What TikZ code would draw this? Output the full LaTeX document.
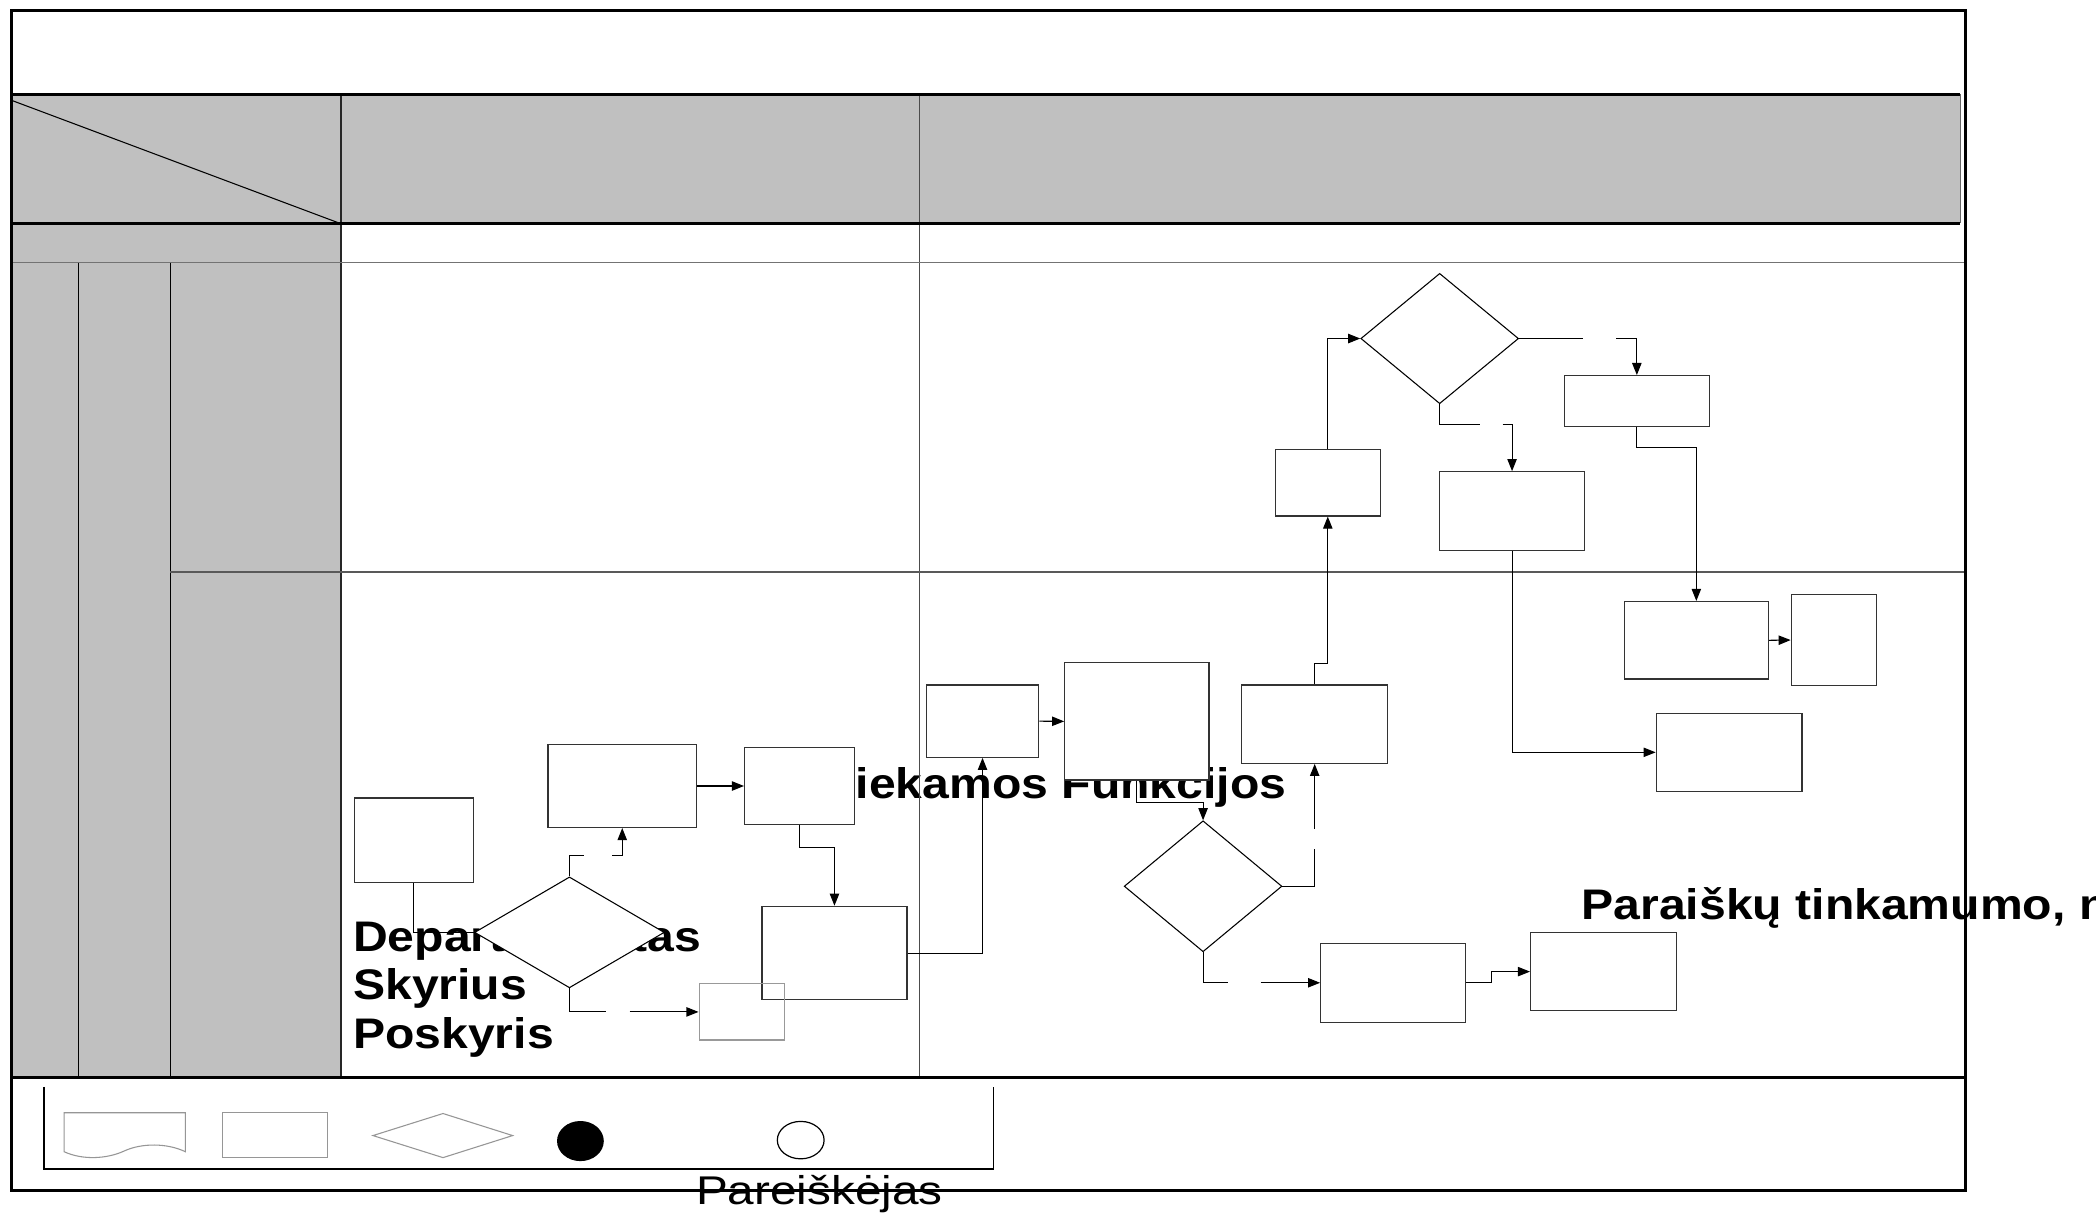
\documentclass[tikz,border=0pt]{standalone}
\usepackage{fontspec}
\setmainfont{Liberation Sans}
\usepackage{graphicx}
\usetikzlibrary{arrows.meta,shapes.geometric}
\definecolor{hdr}{RGB}{192,192,192}
\definecolor{leggray}{RGB}{150,150,150}
\tikzset{
  box/.style={rectangle, draw=black!80, fill=white, line width=0.9pt, inner sep=0pt},
  gbox/.style={rectangle, draw=black!40, line width=0.9pt, inner sep=0pt},
  dec/.style={diamond, draw=black, fill=white, line width=0.8pt, inner sep=0pt},
  conn/.style={draw=black, line width=0.8pt},
  arr/.style={conn, -{Triangle[length=9pt,width=7pt]}},
  bigtxt/.style={font=\fontsize{32}{36}\selectfont\bfseries, inner sep=0pt, anchor=base west},
  regtxt/.style={font=\fontsize{30}{34}\selectfont, inner sep=0pt, anchor=base west},
  leg/.style={draw=leggray, line width=0.8pt},
}
\begin{document}
\begin{tikzpicture}[x=1pt,y=-1pt]
\clip (0,0) rectangle (1568,908);
\fill[white] (0,0) rectangle (1568,908);
% gray header and left columns
\fill[hdr] (8.5,70.6) rectangle (1466.4,167);
\fill[hdr] (8.5,167) rectangle (255,806);

% texts (drawn beneath shapes)
\node[bigtxt] (tdep) at (264,712) {\scalebox{1.125}[1]{Departamentas}};
\node[bigtxt] (tsky) at (264,748) {\scalebox{1.125}[1]{Skyrius}};
\node[bigtxt] (tpos) at (264,784) {\scalebox{1.125}[1]{Poskyris}};
\node[bigtxt] (tfun) at (592,597) {\scalebox{1.125}[1]{Atliekamos Funkcijos}};
\node[bigtxt] (tpar) at (1183,688) {\scalebox{1.125}[1]{Paraiškų tinkamumo, n}};
\node[regtxt] (tpare) at (520.5,901) {\scalebox{1.19}[1]{Pareiškėjas}};

% grid
\draw[line width=0.8pt] (8.5,75) -- (253,166.6);
\draw[black!85, line width=1.3pt] (255,70.6) -- (255,806);
\draw[black!70, line width=0.9pt] (688,70.6) -- (688,806);
\draw[black!60, line width=0.9pt] (1466.4,70.6) -- (1466.4,167);
\draw[black!55, line width=1pt] (8.5,196.5) -- (1470.5,196.5);
\draw[black, line width=1.2pt] (58.7,196.5) -- (58.7,806);
\draw[black, line width=1.2pt] (127.4,196.5) -- (127.4,806);
\draw[black!65, line width=1pt] (127.4,428) -- (1470.5,428);
\draw[line width=1.9pt] (8.5,70.6) -- (1466.4,70.6);
\draw[line width=1.9pt] (8.5,167) -- (1466.4,167);
\draw[line width=2pt] (8.5,806) -- (1470.5,806);
\draw[line width=1.8pt] (8.5,8) rectangle (1470.5,890.5);

% legend
\draw[line width=1pt] (33,813) -- (33,874.5) -- (743,874.5) -- (743,813);
\draw[leg] (48,832.4) -- (138.7,832.4) -- (138.7,861.6)
  .. controls (125,855) and (106,855) .. (93,861)
  .. controls (80,867) and (62,868) .. (48,861.6) -- cycle;
\draw[leg] (166.5,832.4) rectangle (244.7,866);
\draw[leg] (279,849.5) -- (331.4,833) -- (383.5,849.5) -- (331.4,866) -- cycle;
\fill (434.2,853.6) ellipse [x radius=17.5, y radius=15];
\draw[line width=0.9pt] (599,852.9) ellipse [x radius=17.5, y radius=14];

% lower lane, left column
\node[box, minimum width=89pt, minimum height=63pt] (b1) at (309.5,628.5) {};
\node[box, minimum width=111pt, minimum height=62pt] (b2) at (465.5,588) {};
\node[box, minimum width=82pt, minimum height=58pt] (b3) at (598,588) {};
\node[box, minimum width=108.5pt, minimum height=70pt] (b4) at (624.25,713) {};
\node[gbox, minimum width=64pt, minimum height=42pt] (b5) at (555,757) {};
\node[dec, minimum width=142pt, minimum height=83pt] (d1) at (426,697.5) {};

% lower lane, right column
\node[box, minimum width=84pt, minimum height=54pt] (b7) at (735,539.5) {};
\node[box, minimum width=108pt, minimum height=87.7pt] (b6) at (850.5,539.65) {};
\node[dec, minimum width=118pt, minimum height=98pt] (d2) at (900,663) {};
\node[box, minimum width=109pt, minimum height=58.5pt] (b8) at (983.5,541.75) {};
\node[box, minimum width=108.5pt, minimum height=59.2pt] (b10) at (1042.25,735.2) {};
\node[box, minimum width=109pt, minimum height=58.3pt] (b11) at (1199.5,726.85) {};
\node[box, minimum width=109pt, minimum height=58.4pt] (b14) at (1293.5,562.8) {};
\node[box, minimum width=108pt, minimum height=58pt] (b15) at (1269,479) {};
\node[box, minimum width=64pt, minimum height=67.6pt] (b16) at (1372,478.8) {};

% upper lane
\node[box, minimum width=78.6pt, minimum height=50pt] (b9) at (993.3,361) {};
\node[dec, minimum width=118pt, minimum height=97.5pt] (d3) at (1077,253.25) {};
\node[box, minimum width=108.2pt, minimum height=37.8pt] (b12) at (1224.5,299.9) {};
\node[box, minimum width=108.3pt, minimum height=58.8pt] (b13) at (1131.15,382.3) {};

% gap coordinates (where hidden labels interrupt the lines)
\coordinate (g1a) at (437,640);
\coordinate (g1b) at (458,640);
\coordinate (g2a) at (453,757);
\coordinate (g2b) at (471,757);
\coordinate (g3a) at (983.5,635);
\coordinate (g3b) at (983.5,620);
\coordinate (g4a) at (919,735.2);
\coordinate (g4b) at (943,735.2);
\coordinate (g5a) at (1184,253.25);
\coordinate (g5b) at (1209,253.25);
\coordinate (g6a) at (1107,317.7);
\coordinate (g6b) at (1124,317.7);

% connectors
\draw[conn] (b1.south) |- (d1.west);
\draw[conn] (d1.north) |- (g1a);
\draw[arr] (g1b) -| (b2.south);
\draw[conn] (d1.south) |- (g2a);
\draw[arr] (g2b) -- (b5.west);
\draw[arr] (b2.east) -- (b3.west);
\draw[arr] (b3.south) -- ++(0,16.4) -| (b4.north);
\draw[arr] (b4.east) -| (b7.south);
\draw[arr] (b7.east) -- (b6.west);
\draw[arr] (b6.south) -- ++(0,16.5) -| (d2.north);
\draw[conn] (d2.east) -| (g3a);
\draw[arr] (g3b) -- (b8.south);
\draw[conn] (d2.south) |- (g4a);
\draw[arr] (g4b) -- (b10.west);
\draw[arr] (b10.east) -- ++(19,0) |- (b11.west);
\draw[arr] (b8.north) -- ++(0,-15.8) -| (b9.south);
\draw[arr] (b9.north) |- (d3.west);
\draw[conn] (d3.east) -- (g5a);
\draw[arr] (g5b) -| (b12.north);
\draw[conn] (d3.south) |- (g6a);
\draw[arr] (g6b) -| (b13.north);
\draw[arr] (b13.south) |- (b14.west);
\draw[arr] (b12.south) -- ++(0,15.7) -| (b15.north);
\draw[arr] (b15.east) -- (b16.west);
\end{tikzpicture}
\end{document}
